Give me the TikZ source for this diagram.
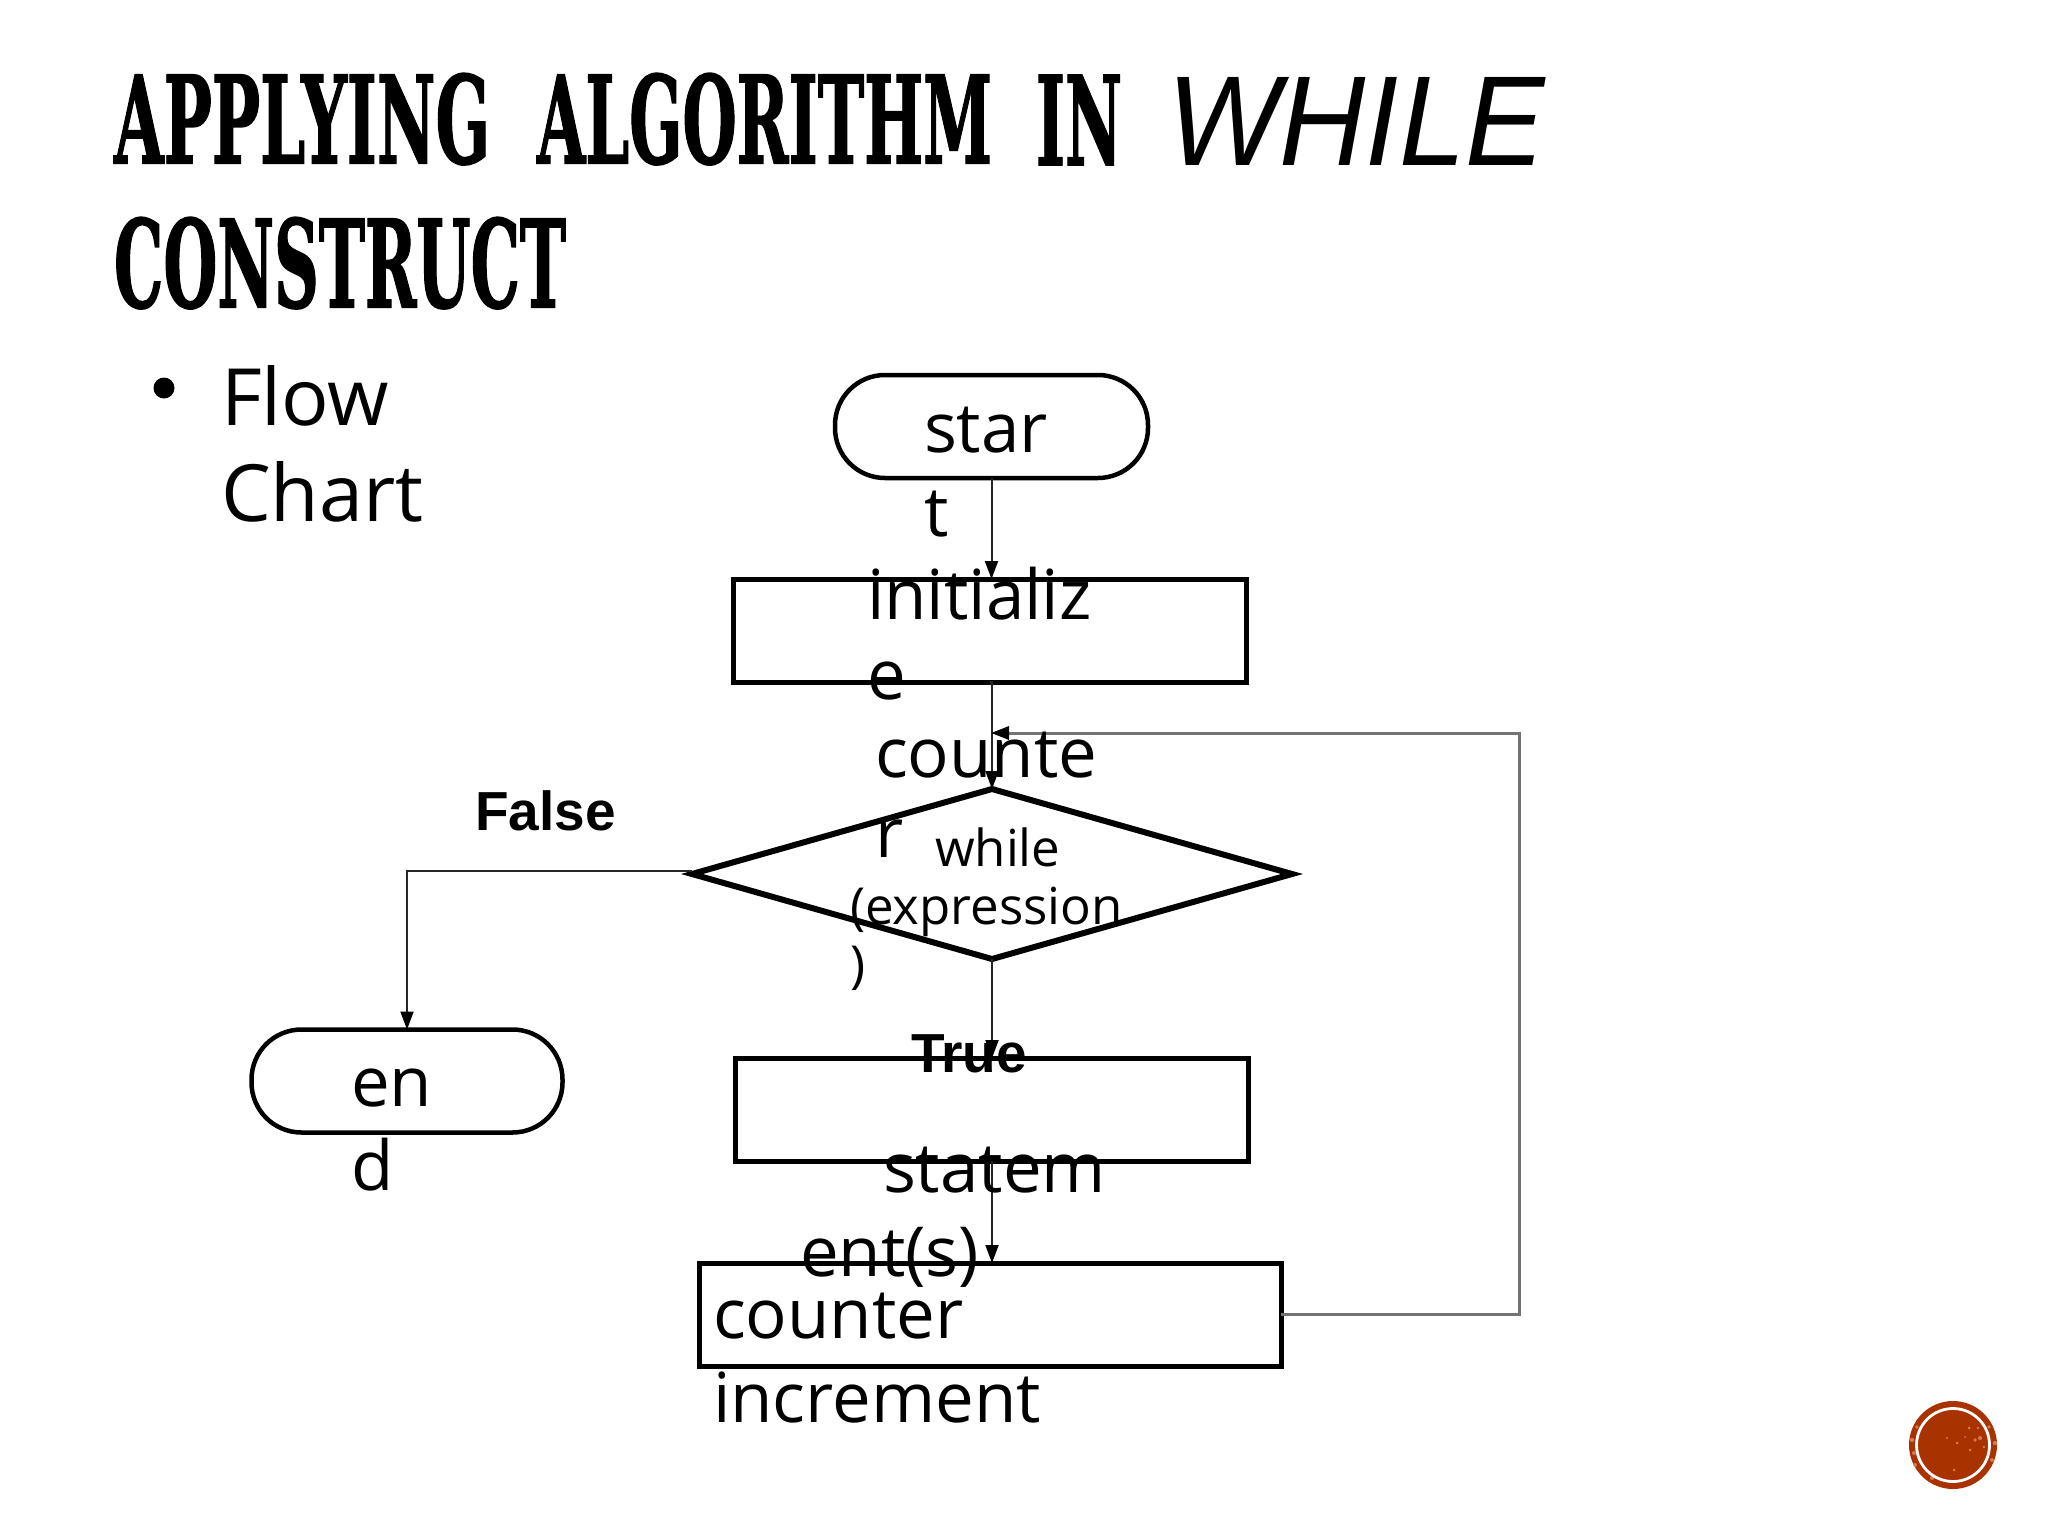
\documentclass[tikz,border=0pt]{standalone}
\usepackage{fontspec}
\usepackage{graphicx}
\usetikzlibrary{shapes.geometric,arrows.meta}
\setmainfont{Open Sans}
\newfontfamily\slabfont[FakeBold=1.5]{DejaVu Serif}
\newfontfamily\helv{Liberation Sans}
\newcommand{\ttlbox}[2]{\resizebox{#1pt}{90pt}{\slabfont\bfseries #2}}
\definecolor{badgered}{HTML}{A83200}
\definecolor{speck}{HTML}{E8906A}
\tikzset{
  every node/.style={inner sep=0pt,outer sep=0pt},
  flowbox/.style={draw=black,line width=5pt,fill=white,rectangle,minimum width=#1,minimum height=103pt},
  terminal/.style={draw=black,line width=4.5pt,fill=white,rectangle,rounded corners=50pt,minimum width=#1,minimum height=103pt},
  decision/.style={draw=black,line width=6pt,fill=white,diamond,shape aspect=3.5,minimum width=600pt,minimum height=170pt},
  ttl/.style={anchor=south west},
  big/.style={anchor=base west,align=left,font=\fontsize{69}{84}\selectfont},
  tight/.style={font=\fontsize{69}{80}\selectfont},
  body/.style={anchor=base west,align=left,font=\fontsize{79}{96}\selectfont},
  small/.style={anchor=base west,align=left,font=\fontsize{51}{58}\selectfont},
  branch/.style={anchor=base west,font=\helv\bfseries\fontsize{55}{60}\selectfont},
  link/.style={draw=black!85,line width=2pt,-{Triangle[length=18pt,width=13pt,color=black]}},
  loop/.style={draw=black!55,line width=3pt,-{Triangle[length=18pt,width=13pt,color=black]}}
}
\begin{document}
\begin{tikzpicture}[x=1pt,y=-1pt]
\useasboundingbox[fill=white] (0,0) rectangle (2048,1536);

% title
\node[ttl] (t1) at (114,165) {\ttlbox{376}{APPLYING}};
\node[ttl] (t2) at (537,165) {\ttlbox{455}{ALGORITHM}};
\node[ttl] (t3) at (1036,165) {\ttlbox{86}{IN}};
\node[ttl] (t4) at (1167,165) {\resizebox{378pt}{88pt}{\helv\itshape WHILE}};
\node[ttl] (t5) at (114,309) {\ttlbox{452}{CONSTRUCT}};

% bullet
\node[circle,fill=black,minimum size=21pt] (bul) at (164,388) {};
\node[body] (flowtxt) at (221,521) {Flow\\Chart};

% shapes
\node[terminal=313pt] (start) at (991.5,426.5) {};
\node[flowbox=513pt] (init) at (989.5,630.5) {};
\node[decision] (cond) at (992,874) {};
\node[terminal=311pt] (endn) at (407,1081) {};
\node[flowbox=513pt] (stmt) at (992,1109.5) {};
\node[flowbox=582pt] (incr) at (990,1314.5) {};
\coordinate (loopA) at (1519,1314.5);
\coordinate (loopB) at (1519,733);
\coordinate (loopC) at (991,733);

% connectors
\draw[link] (start.south) -- (start.south |- init.north);
\draw[link] (init.south) -- (init.south -| cond.north) -- (cond.north);
\draw[link] ([yshift=3pt]cond.west) -| (endn.north);
\draw[link] (cond.south) -- (cond.south |- stmt.north);
\draw[link] (stmt.south) -- (stmt.south |- incr.north);
\draw[loop] (incr.east) -- (loopA) -- (loopB) -- (loopC);

% labels
\node[big] (l1) at (924,536) {star\\t};
\node[big,tight] (l2) at (867,699) {initializ\\e};
\node[big,tight] (l3) at (875,857) {counte\\r};
\node[small] (l4) at (850,982) {\hspace*{85pt}while\\(expression\\)};
\node[big] (l5) at (351,1190) {en\\d};
\node[big] (l6) at (800,1276) {\hspace*{83pt}statem\\ent(s)};
\node[big] (l7) at (713,1422) {counter\\increment};
\node[branch] (lf) at (475,830) {False};
\node[branch] (lt) at (911,1072) {True};

% badge
\node[circle,fill=badgered,minimum size=88pt] (badge) at (1953,1445) {};
\foreach \dx/\dy/\r in {17/-5/1.5,22/5/1.8,27/7/2,16/17/1.5,31/-2/1.4,1/-25/1.5,-6/7/1.2,4/2/1.5,25/17/1.4,12/8/1,
  -38/-20/2,-39/-8/2,-41/5/2.2,-36/18/1.8,-21/-33/2,39/-15/2,42/2/2.2,36/18/1.8}
  \fill[speck,opacity=.75] ([shift={(\dx pt,\dy pt)}]badge.center) circle (\r pt);
\draw[white,line width=2.8pt] (badge.center) circle (36.5pt);
\end{tikzpicture}
\end{document}
